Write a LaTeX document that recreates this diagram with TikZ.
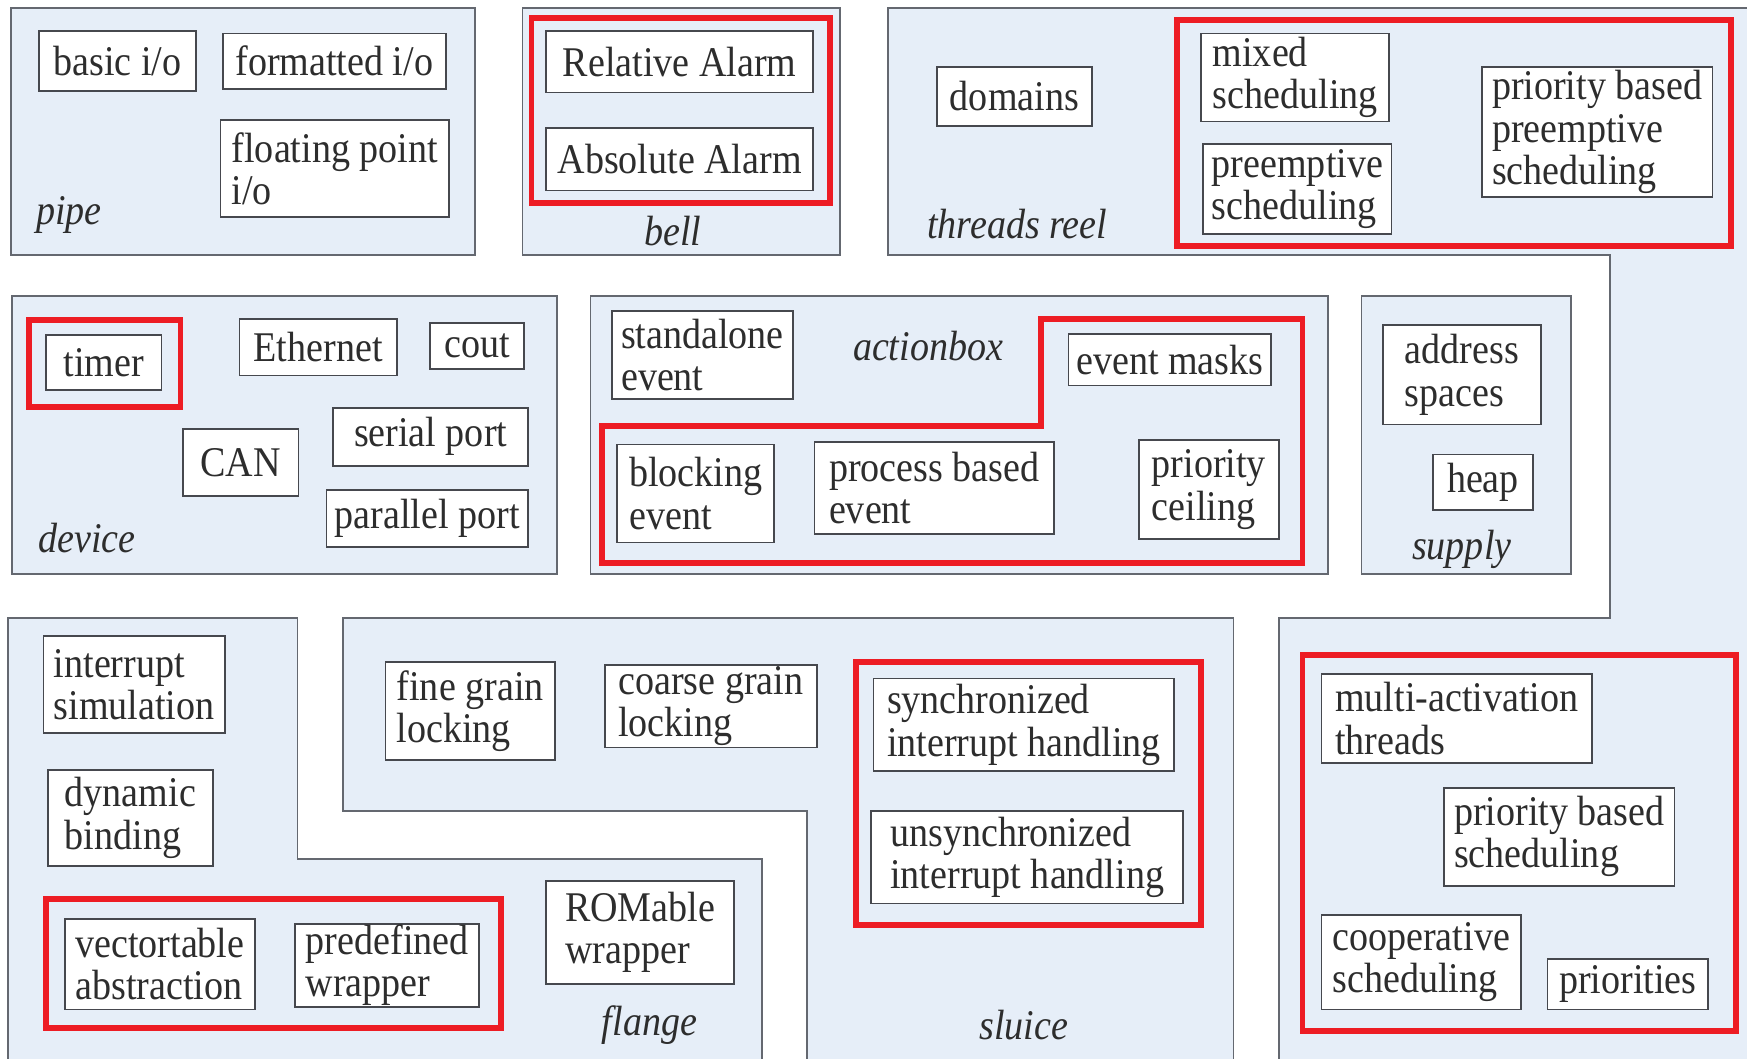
\documentclass[tikz,border=0pt]{standalone}
\usepackage{fontspec}
\setmainfont[FakeStretch=0.9]{Liberation Serif}
\definecolor{PanelClr}{RGB}{230,238,248}
\definecolor{EdgeClr}{RGB}{100,104,112}
\definecolor{BoxClr}{RGB}{70,72,78}
\definecolor{MarkClr}{RGB}{237,28,36}
\definecolor{TextClr}{RGB}{45,45,45}

\begin{document}
\begin{tikzpicture}[
  font=\fontsize{10.8}{10.8}\selectfont,
  panel/.style={fill=PanelClr,draw=EdgeClr,line width=0.45pt},
  item/.style 2 args={draw=BoxClr,fill=white,line width=0.45pt,inner sep=0pt,
    align=left,text=TextClr,minimum width=#1cm,minimum height=#2cm},
  hilite/.style={draw=MarkClr,line width=1.5pt},
  tag/.style={font=\fontsize{10.8}{10.8}\selectfont\itshape,text=TextClr}]
\useasboundingbox (0,0) rectangle (15.68,9.5);
\clip (0,0) rectangle (15.68,9.5);

% panels
\draw[panel] (0.10,7.21) rectangle (4.26,9.43);
\draw[panel] (4.69,7.21) rectangle (7.54,9.43);
\draw[panel] (7.97,9.43) -- (17,9.43) -- (17,-1) -- (11.48,-1) -- (11.48,3.95)
  -- (14.45,3.95) -- (14.45,7.21) -- (7.97,7.21) -- cycle;
\draw[panel] (0.11,4.35) rectangle (5.00,6.84);
\draw[panel] (5.30,4.35) rectangle (11.92,6.84);
\draw[panel] (12.22,4.35) rectangle (14.10,6.84);
\draw[panel] (0.07,3.95) -- (2.67,3.95) -- (2.67,1.79) -- (6.84,1.79) -- (6.84,-1)
  -- (0.07,-1) -- cycle;
\draw[panel] (3.08,3.95) -- (11.07,3.95) -- (11.07,-1) -- (7.24,-1) -- (7.24,2.22)
  -- (3.08,2.22) -- cycle;

% red frames
\draw[hilite] (4.77,7.68) rectangle (7.45,9.34);
\draw[hilite] (10.56,7.29) rectangle (15.54,9.32);
\draw[hilite] (0.26,5.85) rectangle (1.62,6.63);
\draw[hilite] (5.40,5.68) -- (9.34,5.68) -- (9.34,6.64) -- (11.69,6.64)
  -- (11.69,4.45) -- (5.40,4.45) -- cycle;
\draw[hilite] (0.41,0.27) rectangle (4.50,1.43);
\draw[hilite] (7.68,1.20) rectangle (10.78,3.56);
\draw[hilite] (11.69,0.25) rectangle (15.58,3.62);

% pipe
\node[item={1.41}{0.54}] (basicio) at (1.055,8.95) {basic i/o};
\node[item={2.00}{0.50}] (fmtio) at (3.00,8.95) {formatted i/o};
\node[item={2.05}{0.87}] (floatio) at (3.005,7.985) {floating point\\i/o};
\node[tag] (pipetag) at (0.62,7.57) {pipe};

% bell
\node[item={2.40}{0.55}] (relalarm) at (6.10,8.945) {Relative Alarm};
\node[item={2.40}{0.56}] (absalarm) at (6.10,8.07) {Absolute Alarm};
\node[tag] (belltag) at (6.04,7.43) {bell};

% threads reel
\node[item={1.39}{0.53}] (domains) at (9.105,8.635) {domains};
\node[item={1.69}{0.79}] (mixsched) at (11.625,8.805) {mixed\\scheduling};
\node[item={1.69}{0.81}] (preemsched) at (11.645,7.805) {preemptive\\scheduling};
\node[item={2.07}{1.17}] (priopreem) at (14.335,8.315) {priority based\\preemptive\\scheduling};
\node[tag] (reeltag) at (9.13,7.49) {threads reel};
\node[item={2.43}{0.80}] (multiact) at (13.075,3.05) {multi-activation\\threads};
\node[item={2.07}{0.88}] (priosched) at (13.995,1.99) {priority based\\scheduling};
\node[item={1.79}{0.85}] (coopsched) at (12.755,0.865) {cooperative\\scheduling};
\node[item={1.44}{0.45}] (priorities) at (14.61,0.665) {priorities};

% device
\node[item={1.04}{0.49}] (timer) at (0.93,6.245) {timer};
\node[item={1.41}{0.51}] (ethernet) at (2.855,6.385) {Ethernet};
\node[item={0.84}{0.41}] (cout) at (4.28,6.395) {cout};
\node[item={1.04}{0.60}] (can) at (2.16,5.35) {CAN};
\node[item={1.75}{0.52}] (serial) at (3.865,5.58) {serial port};
\node[item={1.81}{0.51}] (parallel) at (3.835,4.845) {parallel port};
\node[tag] (devicetag) at (0.78,4.67) {device};

% actionbox
\node[item={1.63}{0.79}] (standalone) at (6.305,6.315) {standalone\\event};
\node[item={1.82}{0.46}] (evmasks) at (10.50,6.27) {event masks};
\node[item={1.41}{0.88}] (blocking) at (6.245,5.07) {blocking\\event};
\node[item={2.15}{0.82}] (procbased) at (8.385,5.12) {process based\\event};
\node[item={1.26}{0.89}] (ceiling) at (10.85,5.105) {priority\\ceiling};
\node[tag] (actiontag) at (8.33,6.39) {actionbox};

% supply
\node[item={1.42}{0.89}] (addrspaces) at (13.12,6.135) {address\\spaces};
\node[item={0.90}{0.50}] (heap) at (13.31,5.17) {heap};
\node[tag] (supplytag) at (13.12,4.57) {supply};

% flange
\node[item={1.63}{0.87}] (intsim) at (1.205,3.355) {interrupt\\simulation};
\node[item={1.48}{0.86}] (dynbind) at (1.17,2.16) {dynamic\\binding};
\node[item={1.71}{0.81}] (vectab) at (1.435,0.845) {vectortable\\abstraction};
\node[item={1.65}{0.75}] (predef) at (3.475,0.835) {predefined\\wrapper};
\node[item={1.69}{0.92}] (romable) at (5.745,1.13) {ROMable\\wrapper};
\node[tag] (flangetag) at (5.83,0.30) {flange};

% sluice
\node[item={1.52}{0.88}] (finegrain) at (4.22,3.12) {fine grain\\locking};
\node[item={1.90}{0.74}] (coarsegrain) at (6.38,3.16) {coarse grain\\locking};
\node[item={2.70}{0.83}] (syncint) at (9.19,2.995) {synchronized\\interrupt handling};
\node[item={2.80}{0.83}] (unsyncint) at (9.22,1.805) {unsynchronized\\interrupt handling};
\node[tag] (sluicetag) at (9.19,0.30) {sluice};

\end{tikzpicture}
\end{document}
